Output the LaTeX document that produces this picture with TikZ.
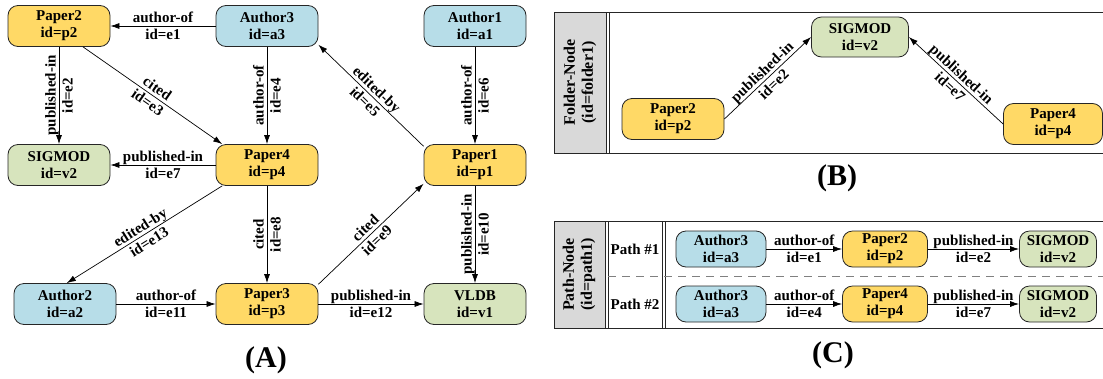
\documentclass[tikz,border=0pt]{standalone}
\usepackage{fontspec}
\setmainfont{Liberation Serif}
\usepackage{xcolor}
\usetikzlibrary{positioning, arrows.meta}
\definecolor{paperfill}{HTML}{FFD966}
\definecolor{authorfill}{HTML}{B7DDE8}
\definecolor{venuefill}{HTML}{D7E4BD}
\definecolor{headfill}{HTML}{D9D9D9}
\tikzstyle{entity} = [rectangle, rounded corners=10pt, minimum width=102pt, minimum height=41pt, inner sep=2pt, align=center, draw=black!85, line width=0.8pt, font=\bfseries\fontsize{15}{17}\selectfont]
\tikzstyle{paper} = [entity, fill=paperfill]
\tikzstyle{author} = [entity, fill=authorfill]
\tikzstyle{venue} = [entity, fill=venuefill]
\tikzstyle{rowbox} = [minimum height=36pt]
\tikzstyle{arrow} = [line width=0.7pt, -{Latex[length=9pt,width=6pt]}]
\tikzstyle{elabel} = [align=center, inner sep=1pt, font=\bfseries\fontsize{15}{17}\selectfont]
\tikzstyle{head} = [rotate=90, align=center, font=\bfseries\fontsize{16}{18}\selectfont]
\tikzstyle{frame} = [line width=0.9pt, draw=black!85]
\tikzstyle{caption} = [font=\bfseries\fontsize{30}{36}\selectfont]

\begin{document}
\begin{tikzpicture}[x=1pt, y=-1pt, node distance=139pt and 208pt, on grid]
        \useasboundingbox (0,0) rectangle (1103,378);

        % (A) the data graph
        \node[paper] (p2) at (59,26) {Paper2\\id=p2};
        \node[author, right=of p2] (a3) {Author3\\id=a3};
        \node[author, right=of a3] (a1) {Author1\\id=a1};
        \node[venue, below=of p2] (v2) {SIGMOD\\id=v2};
        \node[paper, below=of a3] (p4) {Paper4\\id=p4};
        \node[paper, below=of a1] (p1) {Paper1\\id=p1};
        \node[author, below=of v2, xshift=6pt] (a2) {Author2\\id=a2};
        \node[paper, below=of p4] (p3) {Paper3\\id=p3};
        \node[venue, below=of p1] (v1) {VLDB\\id=v1};
        \node[caption] (capA) at (266,360) {(A)};

        \draw[arrow] (a3) -- node[elabel] {author-of\\id=e1} (p2);
        \draw[arrow] (p2) -- node[elabel, rotate=90] {published-in\\id=e2} (v2);
        \draw[arrow] (p2.-41) -- node[elabel, sloped] {cited\\id=e3} (p4.155);
        \draw[arrow] (a3) -- node[elabel, rotate=90] {author-of\\id=e4} (p4);
        \draw[arrow] (p1.160) -- node[elabel, sloped] {edited-by\\id=e5} (a3.-20);
        \draw[arrow] (a1) -- node[elabel, rotate=90] {author-of\\id=e6} (p1);
        \draw[arrow] (p4) -- node[elabel] {published-in\\id=e7} (v2);
        \draw[arrow] (p4) -- node[elabel, rotate=90] {cited\\id=e8} (p3);
        \draw[arrow] (p3.21) -- node[elabel, sloped] {cited\\id=e9} (p1.200);
        \draw[arrow] (p1) -- node[elabel, rotate=90] {published-in\\id=e10} (v1);
        \draw[arrow] (a2) -- node[elabel] {author-of\\id=e11} (p3);
        \draw[arrow] (p3) -- node[elabel] {published-in\\id=e12} (v1);
        \draw[arrow] (p4.205) -- node[elabel, sloped] {edited-by\\id=e13} (a2.85);

        % (B) folder node
        \fill[headfill] (554,12) rectangle (606,153);
        \draw[frame] (1110,12) -- (554,12) -- (554,153) -- (1110,153);
        \draw[frame] (606,12) -- (606,153);
        \draw[frame] (609,12) -- (609,153);
        \node[head] (folder) at (580,82.5) {Folder-Node\\(id=folder1)};
        \node[venue, minimum width=97pt, minimum height=40pt] (bv2) at (860,37) {SIGMOD\\id=v2};
        \node[paper] (bp2) at (673,119) {Paper2\\id=p2};
        \node[paper, minimum width=99pt] (bp4) at (1053,124) {Paper4\\id=p4};
        \node[caption] (capB) at (837,178) {(B)};

        \draw[arrow] (bp2.east) -- node[elabel, sloped] {published-in\\id=e2} (bv2.west);
        \draw[arrow] (bp4.west) -- node[elabel, sloped] {published-in\\id=e7} (bv2.east);

        % (C) path node
        \fill[headfill] (554,221) rectangle (605,328);
        \draw[frame] (1110,221) -- (554,221) -- (554,328) -- (1110,328);
        \draw[frame] (605,221) -- (605,328);
        \draw[frame] (608,221) -- (608,328);
        \draw[frame] (662,221) -- (662,328);
        \draw[frame] (665,221) -- (665,328);
        \draw[gray, line width=0.7pt, dash pattern=on 8pt off 6pt] (608,276) -- (1110,276);
        \node[head] (pathnode) at (579,274.5) {Path-Node\\(id=path1)};
        \node[elabel] (row1) at (635,249) {Path \#1};
        \node[elabel] (row2) at (635,304) {Path \#2};

        \node[author, rowbox, minimum width=90pt] (ca3) at (721,249) {Author3\\id=a3};
        \node[paper, rowbox, minimum width=85pt] (cp2) at (885,249) {Paper2\\id=p2};
        \node[venue, rowbox, minimum width=77pt] (cv2) at (1058,249) {SIGMOD\\id=v2};
        \draw[arrow] (ca3) -- node[elabel] {author-of\\id=e1} (cp2);
        \draw[arrow] (cp2) -- node[elabel] {published-in\\id=e2} (cv2);

        \node[author, rowbox, minimum width=90pt] (da3) at (721,304) {Author3\\id=a3};
        \node[paper, rowbox, minimum width=85pt] (dp4) at (885,304) {Paper4\\id=p4};
        \node[venue, rowbox, minimum width=77pt] (dv2) at (1058,304) {SIGMOD\\id=v2};
        \draw[arrow] (da3) -- node[elabel] {author-of\\id=e4} (dp4);
        \draw[arrow] (dp4) -- node[elabel] {published-in\\id=e7} (dv2);
        \node[caption] (capC) at (833,355) {(C)};
    \end{tikzpicture}
\end{document}
